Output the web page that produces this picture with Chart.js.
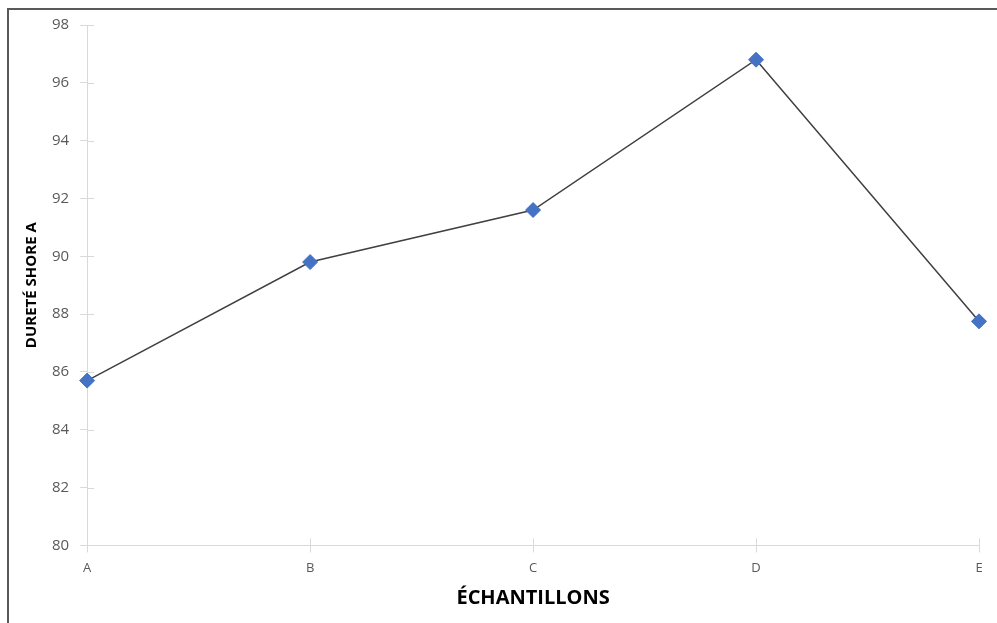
<!DOCTYPE html>
<html>
<head>
<meta charset="utf-8">
<script src="https://cdn.jsdelivr.net/npm/chart.js@4"></script>
<style>
  body { margin: 0; background: #fff; }
  #wrap { position: relative; width: 997px; height: 623px; }
  #frame { position: absolute; left: 7px; top: 8px; right: -4px; bottom: -4px;
           border-left: 2px solid #595959; border-top: 2px solid #595959; pointer-events: none; }
</style>
</head>
<body>
<div id="wrap">
  <canvas id="HardnessChart" width="997" height="623"></canvas>
  <div id="frame"></div>
</div>
<script>
const samples = ["A", "B", "C", "D", "E"];//sample labels on x axis
const hardness = [85.7, 89.8, 91.6, 96.8, 87.75];//Shore A values
const yMin = 80;
const yMax = 98;
const yStep = 2;

const axisGray = "#d9d9d9";
const labelGray = "#595959";

// draws the inner half of the tick marks so they cross the axis like in Excel
const crossTicks = {
    id: "crossTicks",
    afterDatasetsDraw(chart){
        const ctx = chart.ctx;
        const x = chart.scales.x;
        const y = chart.scales.y;
        ctx.save();
        ctx.strokeStyle = axisGray;
        ctx.lineWidth = 1;
        ctx.beginPath();
        for (let i = 0; i < y.ticks.length; i++){
            const py = Math.round(y.getPixelForTick(i)) + 0.5;
            ctx.moveTo(y.right, py);
            ctx.lineTo(y.right + 7, py);
        }
        for (let i = 0; i < x.ticks.length; i++){
            const px = Math.round(x.getPixelForTick(i)) + 0.5;
            ctx.moveTo(px, x.top);
            ctx.lineTo(px, x.top - 7);
        }
        ctx.stroke();
        ctx.restore();
    }
};

const chart = new Chart(document.getElementById("HardnessChart").getContext("2d"), {
    type: "line",
    data: {
        labels: samples,
        datasets: [{
            label: "Dureté",
            data: hardness,
            borderColor: "#404040",
            borderWidth: 1.5,
            tension: 0,
            pointStyle: "rectRot",
            pointRadius: 7.5,
            pointBackgroundColor: "#4472C4",
            pointBorderColor: "#4472C4",
            pointBorderWidth: 1
        }]
    },
    options: {
        responsive: false,
        animation: false,
        layout: { padding: { left: 19, right: 18, top: 25, bottom: 13 } },
        plugins: { legend: { display: false }, tooltip: { enabled: false } },
        scales: {
            x: {
                offset: false,
                grid: { drawOnChartArea: false, drawTicks: true, tickLength: 7, color: axisGray },
                border: { color: axisGray },
                ticks: { color: labelGray, padding: 8, font: { family: "Open Sans", size: 13 } },
                title: { display: true, text: "ÉCHANTILLONS", color: "#000",
                         font: { family: "Open Sans", size: 20, weight: "bold" }, padding: { top: 2, bottom: 0 } }
            },
            y: {
                min: yMin,
                max: yMax,
                grid: { drawOnChartArea: false, drawTicks: true, tickLength: 7, color: axisGray },
                border: { color: axisGray },
                ticks: { stepSize: yStep, color: labelGray, padding: 11, font: { family: "Open Sans", size: 15 } },
                title: { display: true, text: "DURETÉ SHORE A", color: "#000",
                         font: { family: "Open Sans", size: 15, weight: "bold" }, padding: { top: 4, bottom: 0 } }
            }
        }
    },
    plugins: [crossTicks]
});
</script>
</body>
</html>
